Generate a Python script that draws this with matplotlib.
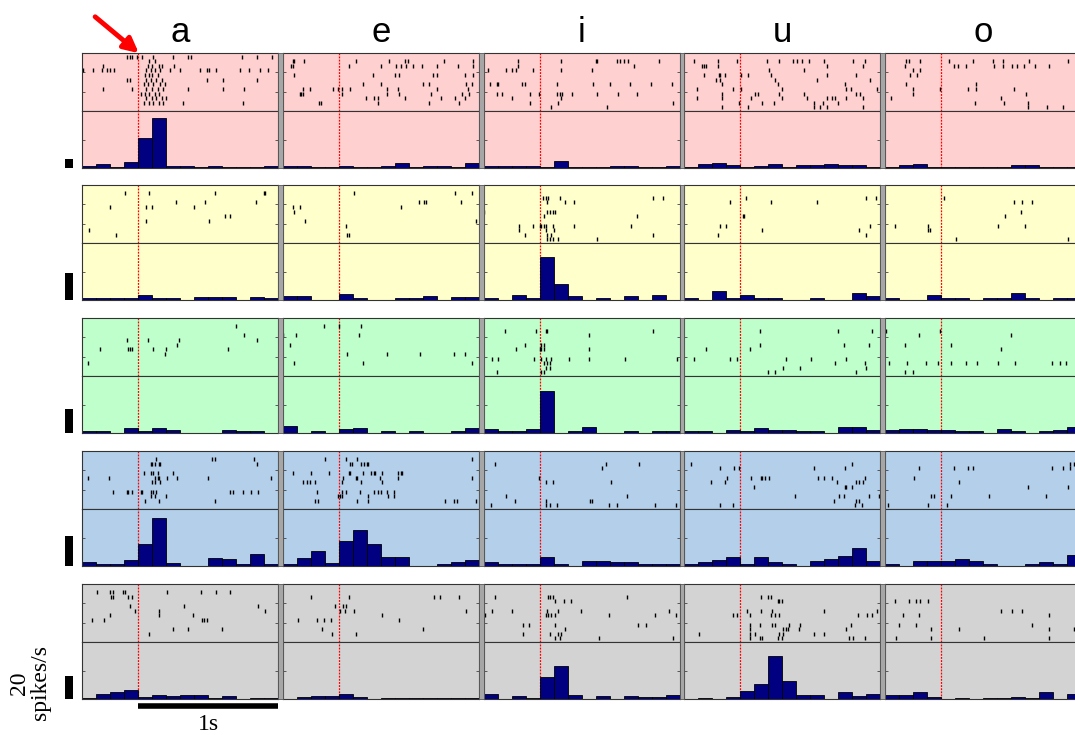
import matplotlib
matplotlib.use("Agg")
import matplotlib.pyplot as plt
import matplotlib.transforms as mtransforms
from matplotlib.patches import Rectangle
import numpy as np

vowels = ["a", "e", "i", "u", "o"]
bin_edges = np.round(np.arange(-0.4, 1.01, 0.1), 2)
row_colors = ["#ffd0d0", "#ffffcc", "#bfffcc", "#b3cfea", "#d3d3d3"]
row_ylim = [120, 42, 47, 38, 50]  # spikes/s at top of each row's histogram

# firing rate per 100 ms bin (spikes/s), columns a, e, i, u, o
rate_pink = [
    [5, 9, 3, 13, 64, 105, 4, 4, 3, 4, 2, 2, 2, 4],
    [5, 5, 2, 2, 4, 2, 3, 4, 10, 2, 5, 4, 3, 10],
    [5, 5, 5, 5, 2, 14, 2, 3, 3, 5, 5, 2, 2, 5],
    [3, 8, 10, 6, 3, 4, 8, 3, 7, 6, 8, 6, 6, 2],
    [2, 7, 9, 3, 2, 2, 3, 2, 3, 7, 6, 2, 2, 2],
]
rate_yellow = [
    [1.5, 1.5, 1.5, 1.5, 4, 1.5, 1.5, 0, 2.5, 2.5, 2.5, 0, 2.5, 1.5],
    [3, 3, 0, 0, 4.5, 1.5, 0, 0, 1.5, 1.5, 3, 0, 2.5, 2.5],
    [1.3, 0, 3.7, 1.3, 32, 12, 2.6, 0, 1.3, 0, 2.6, 0, 3.7, 0],
    [1.5, 0, 6.5, 1.7, 3.7, 1.7, 1.7, 0, 0, 1.7, 0, 0, 5.4, 2.6],
    [1.5, 0, 0, 3.7, 1.7, 1.7, 0, 1.7, 1.7, 5.4, 1.7, 0, 1.7, 1.7],
]
rate_green = [
    [1.7, 1.7, 0, 4, 1.7, 4, 2.8, 0, 0, 0, 2.8, 1.7, 1.7, 0],
    [6, 0, 1.7, 0, 3.3, 4, 0, 1.7, 0, 1.7, 0, 0, 1.7, 4],
    [3.7, 1.5, 1.5, 3.7, 35, 0, 1.5, 5, 0, 0, 1.5, 0, 1.5, 1.5],
    [1.5, 1.5, 0, 2.5, 1.5, 4, 2.5, 2.5, 1.5, 1.5, 0, 5, 5, 2.5],
    [2.5, 3.7, 3.7, 2.5, 2.5, 1.5, 1.5, 0, 3.7, 1.5, 0, 1.5, 2.5, 5],
]
rate_blue = [
    [2.7, 1.3, 1.3, 4, 15, 32, 2.2, 0, 0, 5.5, 4.5, 1.3, 7.8, 1.3],
    [1.3, 5.5, 10, 2.2, 17, 24, 15, 6.2, 6.2, 0, 0, 1.3, 2.7, 4],
    [2.4, 1.2, 1.2, 1.2, 6, 1.2, 0, 3.5, 3.5, 2.4, 2.4, 1.2, 1.2, 1.2],
    [1.2, 2.4, 4, 6, 1.2, 6, 2.4, 1.2, 0, 3.5, 4.7, 7, 12, 3.5],
    [1.2, 0, 3.5, 3.5, 3.5, 4.7, 3.5, 1.2, 0, 0, 1.2, 2.4, 1.2, 7.5],
]
rate_gray = [
    [1.2, 4.4, 6.5, 8.2, 1.5, 3.8, 2.4, 3.8, 3.8, 1.2, 2.9, 0, 1.2, 1.2],
    [0, 1.8, 2.9, 2.9, 4.7, 1.8, 0, 0.9, 0.9, 0.9, 0.9, 0.9, 0.9, 0.9],
    [4.6, 0, 3, 1, 19, 29, 3.6, 0, 2.6, 0, 2.6, 1.5, 1.5, 3.6],
    [0, 1, 0, 2, 7.2, 12.8, 38, 16, 3.6, 3.6, 0, 6.2, 2.6, 4.6],
    [3.6, 3.6, 6.2, 2, 0, 0.8, 0, 0.8, 0.8, 2, 0.8, 6.2, 0, 4.6],
]

# spike times (s) per trial, 12 trials per cell, columns a, e, i, u, o
raster_pink = [
    [[-0.08, -0.06, -0.04, -0.01, 0.03, 0.11, 0.25, 0.36, 0.38, 0.74, 0.85, 0.96],
     [0.08, 0.12],
     [-0.25, 0.07, 0.1, 0.15, 0.17, 0.26],
     [-0.39, -0.32, -0.26, -0.22, -0.2, -0.17, 0.06, 0.09, 0.12, 0.16, 0.23, 0.3,
      0.44, 0.49, 0.51, 0.56, 0.73, 0.79, 0.87, 0.93],
     [0.05, 0.08, 0.1, 0.14],
     [-0.08, -0.06, 0.06, 0.09, 0.13, 0.17, 0.49, 0.61, 0.85],
     [0.04, 0.07, 0.11, 0.16, 0.19],
     [-0.25, -0.04, 0.06, 0.1, 0.14, 0.18, 0.36, 0.61, 0.76],
     [0.02, 0.05, 0.08, 0.12, 0.15],
     [0.06, 0.1, 0.13, 0.17, 0.2],
     [0.04, 0.08, 0.11, 0.15, 0.18, 0.32, 0.75],
     []],
    [[],
     [-0.33, -0.32, -0.25, 0.12, 0.36, 0.47, 0.49, 0.75, 0.96],
     [-0.34, -0.33, 0.07, 0.3, 0.41, 0.44, 0.48, 0.53, 0.59, 0.7, 0.85, 0.96],
     [],
     [-0.32, 0.24, 0.4, 0.43, 0.67, 0.7, 0.9, 0.96],
     [],
     [0.17, 0.3, 0.6, 0.64, 0.91, 0.95],
     [-0.26, -0.21, -0.04, -0.01, 0.02, 0.08, 0.34, 0.42, 0.7, 0.92],
     [-0.28, -0.27, -0.26, 0.02, 0.34, 0.43, 0.66, 0.88, 0.93],
     [0.19, 0.25, 0.28, 0.47, 0.73, 0.83, 0.9],
     [-0.14, -0.13, 0.28, 0.64, 0.86],
     []],
    [[],
     [-0.16, 0.15, 0.4, 0.41, 0.55, 0.57, 0.6, 0.63, 0.85],
     [-0.16, 0.67],
     [-0.37, -0.24, -0.2, -0.17, -0.05, 0.15, 0.37],
     [],
     [],
     [-0.36, -0.31, -0.3, -0.13, -0.11, 0.12, 0.38, 0.5, 0.64, 0.79, 0.94],
     [],
     [-0.31, -0.27, -0.07, -0.01, 0.12, 0.14, 0.16, 0.23, 0.41, 0.56, 0.69],
     [-0.2, 0.15],
     [-0.07, 0.13, 0.95],
     [0.08, 0.48]],
    [[],
     [-0.33, -0.16, -0.02, 0.19, 0.28, 0.38, 0.41, 0.44, 0.49, 0.6, 0.81, 0.89],
     [-0.27, -0.26, -0.24, -0.16, 0.62, 0.88],
     [0.21, 0.46],
     [-0.26, -0.15, -0.14, -0.11, 0.005, 0.06, 0.22, 0.62, 0.83],
     [-0.17, -0.14, 0.25, 0.55, 0.93],
     [-0.13, 0.27, 0.75],
     [-0.31, -0.05, 0.005, 0.3, 0.76, 0.79, 0.98],
     [-0.13, 0.11, 0.13, 0.28, 0.46, 0.83, 0.86],
     [-0.31, -0.13, 0.08, 0.3, 0.48, 0.62, 0.66, 0.68, 0.76, 0.88],
     [-0.01, 0.16, 0.24, 0.53, 0.59, 0.7],
     [-0.13, 0.06, 0.53, 0.57, 0.62, 0.88]],
    [[],
     [-0.25, -0.23, -0.15, 0.06, 0.23, 0.37, 0.44, 0.63, 0.91],
     [-0.26, 0.09, 0.12, 0.18, 0.38, 0.44, 0.51, 0.54, 0.59, 0.67, 0.77],
     [-0.2, -0.15],
     [-0.22, -0.17],
     [],
     [-0.25, 0.25],
     [-0.2, -0.01, 0.19, 0.25, 0.52],
     [-0.2, 0.61],
     [-0.36, 0.43],
     [0.24, 0.45, 0.62],
     [0.62, 0.76, 0.87]],
]
raster_yellow = [
    [[], [-0.09, 0.08, 0.55, 0.9, 0.91], [], [0.27, 0.48, 0.84],
     [-0.2, 0.06, 0.1, 0.4], [], [0.62, 0.66], [0.06, 0.51], [],
     [-0.35], [-0.16], []],
    [[], [0.11, 0.83, 0.95], [], [0.57, 0.61, 0.62, 0.87],
     [-0.33, -0.28, 0.44], [-0.32], [], [-0.24, 0.98], [0.05],
     [], [0.06, 0.07], []],
    [[], [], [0.02, 0.04, 0.06, 0.14, 0.81, 0.88], [0.05, 0.18, 0.24], [],
     [-0.4, 0.05, 0.07, 0.09, 0.11], [0.03, 0.69], [],
     [-0.15, -0.05, 0.0, 0.01, 0.03, 0.04, 0.09, 0.24, 0.65],
     [-0.15, 0.04, 0.1], [-0.11, 0.05, 0.08, 0.81],
     [0.05, 0.07, 0.09, 0.13, 0.41]],
    [[], [], [0.04, 0.9, 0.97], [-0.07, 0.22, 0.55], [], [],
     [0.02, 0.03], [], [-0.14, -0.1, 0.93], [0.16, 0.85],
     [-0.16, 0.9], []],
    [[], [], [0.02], [0.52, 0.58, 0.65], [], [0.57], [0.46], [],
     [-0.33, -0.09, 0.41, 0.6], [-0.09, -0.08], [], [0.11, 0.91]],
]
raster_green = [
    [[], [0.7], [], [0.76], [-0.08, 0.07, 0.29, 0.85], [0.28],
     [-0.27, -0.07, -0.06, -0.04, 0.11, 0.2, 0.64], [0.19], [],
     [-0.36], [], []],
    [[], [-0.11, 0.0, 0.16], [], [-0.4, -0.31, 0.14], [], [-0.35], [],
     [0.06, 0.34, 0.58, 0.82, 0.9], [], [-0.32, 0.17, 0.95], [], []],
    [[], [], [-0.25, -0.03, 0.04, 0.05, 0.81], [0.35], [],
     [-0.11, 0.01, 0.03], [-0.17, 0.0, 0.01, 0.03, 0.35], [],
     [-0.34, -0.3, -0.04, 0.01, 0.04, 0.08, 0.21, 0.35, 0.61, 0.98],
     [0.03, 0.05, 0.07], [0.04, 0.07], [-0.31, 0.01, 0.03]],
    [[], [], [0.14, 0.7, 0.94], [], [], [0.14, 0.74, 0.92],
     [-0.24, 0.07], [], [-0.33, -0.07, -0.02, 0.33, 0.51, 0.76],
     [0.68, 0.89], [0.31, 0.43, 0.9], [0.2, 0.25, 0.83]],
    [[], [], [-0.39, -0.01], [-0.16, 0.5], [], [-0.26, 0.07], [0.43],
     [], [], [-0.37, -0.24, -0.11, -0.02, 0.07, 0.18, 0.26, 0.41, 0.53,
              0.79, 0.85, 0.89], [], [-0.26, -0.2]],
]
raster_blue = [
    [[], [0.13, 0.53, 0.55, 0.83], [0.09, 0.1, 0.12, 0.15, 0.16, 0.85], [],
     [0.04, 0.09, 0.11, 0.14, 0.25],
     [-0.36, -0.21, 0.12, 0.14, 0.15, 0.21, 0.28, 0.5, 0.95],
     [0.1, 0.12, 0.16], [],
     [-0.18, -0.08, -0.07, -0.04, 0.02, 0.03, 0.09, 0.11, 0.13, 0.66, 0.68,
      0.75, 0.81, 0.86],
     [0.09, 0.12, 0.2], [0.05, 0.15, 0.55], []],
    [[], [-0.1, 0.05, 0.13, 0.95], [0.08, 0.09, 0.16, 0.18, 0.2, 0.21], [],
     [-0.33, -0.2, -0.07, 0.07, 0.08, 0.17, 0.23, 0.25, 0.26, 0.31, 0.42,
      0.44, 0.45],
     [0.03, 0.12, 0.13, 0.29, 0.42, 0.95],
     [-0.26, -0.23, -0.21, -0.17, 0.02, 0.16, 0.31], [],
     [-0.16, 0.02, 0.05, 0.15, 0.25, 0.28, 0.3, 0.34, 0.39],
     [-0.01, 0.01, 0.02, 0.21, 0.35, 0.39],
     [-0.17, -0.15, 0.13, 0.21, 0.76, 0.82, 0.84, 0.98], []],
    [[], [], [-0.32, 0.47, 0.71], [0.44], [], [-0.01], [0.04, 0.09, 0.51],
     [], [], [-0.24, 0.62], [-0.18, 0.04, 0.36, 0.37],
     [-0.35, 0.04, 0.07, 0.12, 0.49, 0.55, 0.82, 0.97]],
    [[], [], [-0.35, 0.8], [-0.14, -0.04, -0.01, 0.53, 0.75], [],
     [-0.09, 0.08, 0.15, 0.16, 0.18, 0.21, 0.56, 0.6, 0.66, 0.89],
     [-0.21, -0.11, 0.69, 0.83, 0.85, 0.88], [0.1, 0.75, 0.76, 0.8], [],
     [0.39, 0.71, 0.74, 0.92, 0.99], [0.67, 0.83, 0.85],
     [-0.14, -0.05, 0.82, 0.87]],
    [[], [], [0.92, 0.95], [-0.16, 0.09, 0.19, 0.23, 0.79, 0.87, 0.92], [],
     [-0.19], [0.13], [0.62, 0.91], [], [-0.07, -0.05, 0.07, 0.34, 0.75],
     [], [-0.38, -0.09, 0.04]],
]
raster_gray = [
    [[], [-0.29, -0.2, -0.18, -0.11, -0.09, 0.21, 0.45, 0.56, 0.66],
     [-0.19, -0.18, -0.07, -0.04], [], [-0.06, 0.33, 0.86],
     [-0.02, 0.15, 0.91], [-0.2, 0.15, 0.39],
     [-0.33, -0.24, 0.46, 0.47, 0.49], [], [0.25, 0.36, 0.6], [0.08], []],
    [[], [], [-0.2, 0.07, 0.68, 0.72, 0.86], [], [-0.03, 0.03, 0.05],
     [0.01, 0.04, 0.11, 0.91], [0.31],
     [-0.29, -0.16, -0.11, -0.06, 0.43], [], [-0.12, 0.6],
     [-0.05, 0.12], []],
    [[], [], [-0.32, 0.06, 0.07, 0.09, 0.62], [0.11, 0.17, 0.22], [],
     [-0.34, -0.2, 0.05, 0.13, 0.29, 0.92],
     [-0.39, 0.04, 0.06, 0.08, 0.11, 0.49, 0.82, 0.97], [],
     [-0.12, -0.08, 0.11, 0.7, 0.76], [0.18],
     [-0.12, 0.07, 0.13, 0.15], [0.11, 0.14, 0.42, 0.95]],
    [[], [], [0.15, 0.2, 0.22], [0.27, 0.28, 0.3], [],
     [0.05, 0.15, 0.23, 0.6, 0.98],
     [-0.05, -0.02, 0.07, 0.22, 0.25, 0.28, 0.84, 0.91, 0.94], [],
     [0.07, 0.14, 0.23, 0.25, 0.35, 0.43, 0.79],
     [0.07, 0.31, 0.33, 0.34, 0.42, 0.76],
     [-0.29, 0.07, 0.11, 0.28, 0.31, 0.53, 0.6],
     [0.07, 0.14, 0.16, 0.27, 0.3, 0.78, 0.81, 0.89]],
    [[], [], [], [-0.33, -0.23, -0.18, -0.15, -0.09], [],
     [0.43, 0.51, 0.58], [-0.27, -0.16, 0.77], [], [-0.3, -0.18, 0.65],
     [-0.07, 0.13, 0.77, 0.95], [], [-0.32, -0.07, 0.31, 0.77]],
]

rates = [rate_pink, rate_yellow, rate_green, rate_blue, rate_gray]
rasters = [raster_pink, raster_yellow, raster_green, raster_blue, raster_gray]

W, H = 1075, 735
col_left = [82, 283, 484, 684, 885]
col_w = 196
row_top = [53, 185, 318, 451, 584]
rast_h, hist_h = 58, 57
n_trials = 12


def fig_rect(x, y, w, h):
    return [x / W, 1 - (y + h) / H, w / W, h / H]


fig = plt.figure(figsize=(W / 100, H / 100), dpi=100)

for r in range(5):
    # gray strips between neighbouring panels
    for c in range(4):
        x0 = col_left[c] + col_w
        fig.patches.append(Rectangle((x0 / W, 1 - (row_top[r] + rast_h + hist_h) / H),
                                     (col_left[c + 1] - x0) / W, (rast_h + hist_h) / H,
                                     transform=fig.transFigure, facecolor="#a6a6a6",
                                     edgecolor="#555555", lw=0.6, zorder=0))
    for c in range(5):
        ax_r = fig.add_axes(fig_rect(col_left[c], row_top[r], col_w, rast_h))
        ax_h = fig.add_axes(fig_rect(col_left[c], row_top[r] + rast_h, col_w, hist_h))

        for trial, times in enumerate(rasters[r][c]):
            ax_r.plot(times, [trial + 1] * len(times), ls="none", marker="|",
                      ms=2.5, mew=1.0, color="black")
        ax_r.set_xlim(-0.4, 1.0)
        ax_r.set_ylim(n_trials + 0.8, 0.2)
        ax_r.set_yticks([0.2, 4.4, 8.6, 12.8])

        ax_h.bar(bin_edges[:-1], rates[r][c], width=0.1, align="edge",
                 color="#000080", edgecolor="black", linewidth=0.6)
        ax_h.set_xlim(-0.4, 1.0)
        ax_h.set_ylim(0, row_ylim[r])
        ax_h.set_yticks([0, row_ylim[r] / 2, row_ylim[r]])

        for ax in (ax_r, ax_h):
            ax.set_facecolor(row_colors[r])
            ax.axvline(0, color="red", ls=(0, (1.5, 1)), lw=0.9, zorder=0.5)
            ax.set_xticks([])
            ax.tick_params(direction="in", length=2.5, width=0.6, left=True,
                           right=True, labelleft=False, color="#444444")
            for sp in ax.spines.values():
                sp.set_color("#333333")
                sp.set_linewidth(0.8)

        if r == 0:
            fig.text((col_left[c] + col_w / 2) / W, 1 - 33 / H, vowels[c],
                     ha="center", va="center", fontsize=25, family="Liberation Sans")

        if c == 0:
            # 20 spikes/s scale bar
            trans = mtransforms.blended_transform_factory(ax_h.transAxes, ax_h.transData)
            ax_h.add_patch(Rectangle((-0.088, 0), 0.042, 20, transform=trans,
                                     facecolor="black", clip_on=False))
            if r == 0:
                ax_r.annotate("", xy=(141 / W, 1 - 55 / H), xytext=(93 / W, 1 - 15 / H),
                              xycoords="figure fraction", textcoords="figure fraction",
                              arrowprops=dict(arrowstyle="-|>", color="red", lw=3.5,
                                              mutation_scale=22),
                              annotation_clip=False)
            if r == 4:
                transx = mtransforms.blended_transform_factory(ax_h.transData, ax_h.transAxes)
                ax_h.plot([0, 1.0], [-0.13, -0.13], transform=transx, color="black",
                          lw=4, solid_capstyle="butt", clip_on=False)
                ax_h.text(0.5, -0.45, "1s", transform=transx, ha="center", va="center",
                          fontsize=17, family="Liberation Serif")

fig.text(30 / W, 1 - 683 / H, "20\nspikes/s", rotation=90, ha="center", va="center",
         fontsize=17, family="Liberation Serif", linespacing=0.95)

fig.savefig("out.png", dpi=100)
